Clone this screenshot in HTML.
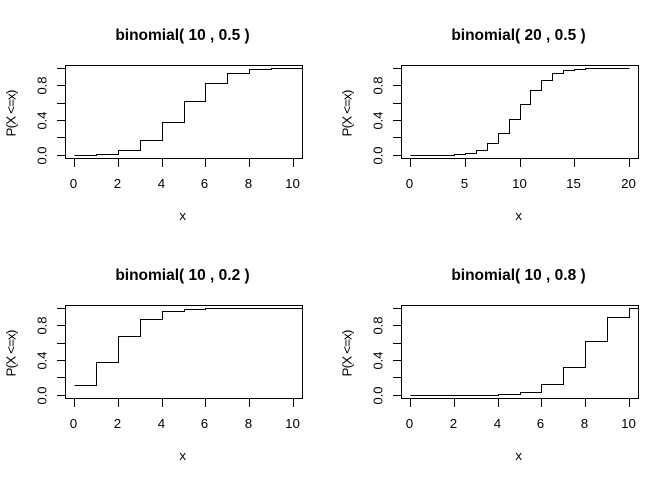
<!DOCTYPE html>
<html lang="en">
<head>
<meta charset="utf-8">
<title>Binomial CDF panels</title>
<style>
html,body{margin:0;padding:0;background:#fff;width:672px;height:480px;overflow:hidden}
svg{display:block}
text{font-family:"Liberation Sans",Arial,sans-serif;fill:#000}
</style>
</head>
<body>
<svg id="chart" xmlns="http://www.w3.org/2000/svg" width="672" height="480" viewBox="0 0 672 480"></svg>
<script>
const panelTitles = ["binomial( 10 , 0.5 )", "binomial( 20 , 0.5 )", "binomial( 10 , 0.2 )", "binomial( 10 , 0.8 )"];
const cdf10_05 = [0.001, 0.011, 0.055, 0.172, 0.377, 0.623, 0.828, 0.945, 0.989, 0.999, 1, 1];
const cdf20_05 = [0, 0, 0, 0.001, 0.006, 0.021, 0.058, 0.132, 0.252, 0.412, 0.588, 0.748, 0.868, 0.942, 0.979, 0.994, 0.999, 1, 1, 1, 1];
const cdf10_02 = [0.107, 0.376, 0.678, 0.879, 0.967, 0.994, 0.999, 1, 1, 1, 1, 1];
const cdf10_08 = [0, 0, 0, 0.001, 0.006, 0.033, 0.121, 0.322, 0.624, 0.893, 1, 1];
const xTicks10 = [0, 2, 4, 6, 8, 10];
const xTicks20 = [0, 5, 10, 15, 20];
const yTicks = [0, 0.2, 0.4, 0.6, 0.8, 1];
const yTickLabels = ["0.0", "", "0.4", "", "0.8", ""];
const panelSeries = [cdf10_05, cdf20_05, cdf10_02, cdf10_08];
const panelXTicks = [xTicks10, xTicks20, xTicks10, xTicks10];
const panelXMax = [10, 20, 10, 10];

const NS = "http://www.w3.org/2000/svg";
const svg = document.getElementById("chart");

function make(parent, tag, attrs, text) {
  const el = document.createElementNS(NS, tag);
  for (const k in attrs) el.setAttribute(k, attrs[k]);
  if (text !== undefined) el.textContent = text;
  parent.appendChild(el);
  return el;
}

function drawPanel(idx) {
  const ox = idx % 2 === 1 ? 336 : 0;
  const oy = idx >= 2 ? 240 : 0;
  const xMax = panelXMax[idx];
  const xAxis = v => ox + 74.5 + (v / xMax) * 219;
  const yAxis = v => oy + 155.25 - v * 86.6;
  const snap = v => Math.floor(v) + 0.5;
  const left = ox + 65.5, right = ox + 302.5, top = oy + 65.5, bottom = oy + 158.5;

  const g = make(svg, "g", {});
  
  

  const title = make(g, "text", {x: ox + 182.5, y: oy + 40, "text-anchor": "middle", "font-size": "15.5", "font-weight": "bold"}, panelTitles[idx]);
  
  

  const clipId = "clip" + idx;
  const defs = make(g, "defs", {});
  const clip = make(defs, "clipPath", {id: clipId});
  make(clip, "rect", {x: left, y: top, width: right - left, height: bottom - top});

  const values = panelSeries[idx];
  let d = "";
  values.forEach((v, i) => {
    const px = snap(xAxis(i));
    const py = snap(yAxis(v));
    if (i === 0) {
      d += "M" + px + " " + py;
    } else {
      d += "H" + px + "V" + py;
    }
  });
  const line = make(g, "path", {d: d, fill: "none", stroke: "#000", "stroke-width": "1", "clip-path": "url(#" + clipId + ")", "shape-rendering": "crispEdges"});
  
  

  const box = make(g, "rect", {x: left, y: top, width: right - left, height: bottom - top, fill: "none", stroke: "#000", "stroke-width": "1", "shape-rendering": "crispEdges"});
  
  

  panelXTicks[idx].forEach(t => {
    const px = snap(xAxis(t));
    const tick = make(g, "line", {x1: px, x2: px, y1: bottom, y2: oy + 167, stroke: "#000", "stroke-width": "1", "shape-rendering": "crispEdges"});
    
    
    const label = make(g, "text", {x: px - 1, y: oy + 188, "text-anchor": "middle", "font-size": "13.3"}, String(t));
    
    
  });

  yTicks.forEach((t, i) => {
    const py = snap(yAxis(t));
    const tick = make(g, "line", {x1: ox + 57, x2: left, y1: py, y2: py, stroke: "#000", "stroke-width": "1", "shape-rendering": "crispEdges"});
    
    
    if (yTickLabels[i]) {
      const lx = ox + 46.5, ly = py;
      const label = make(g, "text", {x: lx, y: ly, "text-anchor": "middle", "font-size": "13", transform: "rotate(-90 " + lx + " " + ly + ")"}, yTickLabels[i]);
      
      
    }
  });

  const xTitle = make(g, "text", {x: ox + 182.7, y: oy + 220, "text-anchor": "middle", "font-size": "13.3"}, "x");
  
  

  const ytx = ox + 15.5, yty = oy + 113;
  const yTitle = make(g, "text", {x: ytx, y: yty, "text-anchor": "middle", "font-size": "13.3", textLength: "47", lengthAdjust: "spacing", transform: "rotate(-90 " + ytx + " " + yty + ")"}, "P(X <=x)");
  
  
}

panelTitles.forEach((_, i) => drawPanel(i));
</script>
</body>
</html>
